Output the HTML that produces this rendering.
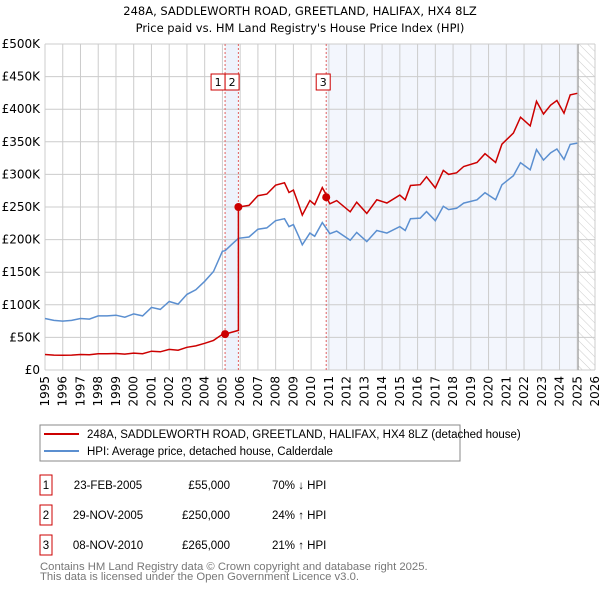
<!DOCTYPE html>
<html><head><meta charset="utf-8"><style>
body{margin:0;background:#fff;font-family:"Liberation Sans","DejaVu Sans",sans-serif;}
svg text{font-family:"DejaVu Sans","Liberation Sans",sans-serif;}
svg text.lib{font-family:"Liberation Sans","DejaVu Sans",sans-serif;}
</style></head><body>
<svg id="c" width="600" height="590" xmlns="http://www.w3.org/2000/svg">
<defs><pattern id="hatch" width="6" height="6" patternUnits="userSpaceOnUse" patternTransform="rotate(-45)"><line x1="0" y1="0" x2="0" y2="6" stroke="#ccc" stroke-width="1"/></pattern></defs>
<text x="300" y="15" text-anchor="middle" font-size="11.5" fill="#000">248A, SADDLEWORTH ROAD, GREETLAND, HALIFAX, HX4 8LZ</text>
<text x="300" y="32" text-anchor="middle" font-size="11.5" fill="#000">Price paid vs. HM Land Registry's House Price Index (HPI)</text>
<g id="plot"></g>
<rect x="40" y="425" width="420" height="36" fill="#fff" stroke="#888"/>
<line x1="44" y1="434" x2="79" y2="434" stroke="#cc0000" stroke-width="2"/>
<text class="lib" x="87" y="438" font-size="11.5">248A, SADDLEWORTH ROAD, GREETLAND, HALIFAX, HX4 8LZ (detached house)</text>
<line x1="44" y1="451" x2="79" y2="451" stroke="#5b8fd0" stroke-width="2"/>
<text class="lib" x="87" y="455" font-size="11.5">HPI: Average price, detached house, Calderdale</text>
<g id="table" font-size="11.5"></g>
<text class="lib" x="40" y="570" font-size="11.3" fill="#777">Contains HM Land Registry data © Crown copyright and database right 2025.</text>
<text class="lib" x="40" y="580" font-size="11.3" fill="#777">This data is licensed under the Open Government Licence v3.0.</text>
</svg>
<script>
const hpiYears=[1995,1995.5,1996,1996.5,1997,1997.5,1998,1998.5,1999,1999.5,2000,2000.5,2001,2001.5,2002,2002.5,2003,2003.5,2004,2004.5,2005,2005.15,2005.5,2005.9,2006.5,2007,2007.5,2008,2008.5,2008.75,2009,2009.3,2009.5,2009.93,2010.2,2010.63,2011.06,2011.44,2012.2,2012.57,2013.14,2013.7,2014.27,2015,2015.3,2015.6,2016.15,2016.5,2017,2017.45,2017.75,2018.2,2018.6,2019.35,2019.8,2020.4,2020.75,2021.4,2021.8,2022.05,2022.35,2022.7,2023.1,2023.5,2023.85,2024.25,2024.6,2025];
const hpiValues=[79,76,75,76,79,78,83,83,84,81,86,83,96,93,105,101,116,123,136,151,182,183,192,202,204,216,218,229,232,220,223,205,192,210,205,226,209,213,199,211,197,214,210,220,214,232,233,243,229,251,246,248,256,261,272,261,284,298,318,313,307,338,322,333,339,323,346,348];
const saleDates=[2005.15,2005.9,2010.85];
const salePrices=[55,250,265];
const saleLabels=["1","2","3"];
const saleDateText=["23-FEB-2005","29-NOV-2005","08-NOV-2010"];
const salePriceText=["£55,000","£250,000","£265,000"];
const saleHpiText=["70% ↓ HPI","24% ↑ HPI","21% ↑ HPI"];
const yTicks=[0,50,100,150,200,250,300,350,400,450,500];
const yTickLabels=["£0","£50K","£100K","£150K","£200K","£250K","£300K","£350K","£400K","£450K","£500K"];
const xTicks=[1995,1996,1997,1998,1999,2000,2001,2002,2003,2004,2005,2006,2007,2008,2009,2010,2011,2012,2013,2014,2015,2016,2017,2018,2019,2020,2021,2022,2023,2024,2025,2026];

const X0=45,X1=595,Y0=370,Y1=44;
const xs=t=>X0+(t-1995)/(2026-1995)*(X1-X0);
const ys=v=>Y0-v/500*(Y0-Y1);
const NS="http://www.w3.org/2000/svg";
const plot=document.getElementById('plot');
function mk(tag,attrs,parent){const e=document.createElementNS(NS,tag);for(const k in attrs)e.setAttribute(k,attrs[k]);(parent||plot).appendChild(e);return e;}
function hpiAt(t){for(let i=0;i<hpiYears.length-1;i++){if(t<=hpiYears[i+1]){const f=(t-hpiYears[i])/(hpiYears[i+1]-hpiYears[i]);return hpiValues[i]+f*(hpiValues[i+1]-hpiValues[i]);}}return hpiValues[hpiValues.length-1];}

let r=mk('rect',{x:xs(saleDates[0]),y:Y1,width:xs(saleDates[1])-xs(saleDates[0]),height:Y0-Y1,fill:'#eef3fc'});

r=mk('rect',{x:xs(saleDates[2]),y:Y1,width:xs(2025.05)-xs(saleDates[2]),height:Y0-Y1,fill:'#f3f6fd'});

r=mk('rect',{x:xs(2025.05),y:Y1,width:X1-xs(2025.05),height:Y0-Y1,fill:'url(#hatch)'});

yTicks.forEach((v,i)=>{
 const l=mk('line',{x1:X0,x2:X1,y1:ys(v),y2:ys(v),stroke:'#ccc','stroke-width':1});
 
 const t=mk('text',{x:X0-5,y:ys(v)+4,'text-anchor':'end','font-size':12});t.textContent=yTickLabels[i];
 
});
xTicks.forEach(y=>{
 const l=mk('line',{x1:xs(y),x2:xs(y),y1:Y1,y2:Y0,stroke:'#ccc','stroke-width':1});
 
 const t=mk('text',{x:0,y:0,'text-anchor':'end','font-size':12,transform:`translate(${xs(y)+4},376) rotate(-90)`});t.textContent=y;
 
});
let l=mk('line',{x1:xs(2025.05),x2:xs(2025.05),y1:Y1,y2:Y0,stroke:'#999','stroke-width':1});

saleDates.forEach((d,i)=>{
 const s=mk('line',{x1:xs(d),x2:xs(d),y1:Y1,y2:Y0,stroke:'#e06060','stroke-width':1,'stroke-dasharray':'2,2'});
 
});
const hp=hpiYears.map((t,i)=>xs(t).toFixed(1)+','+ys(hpiValues[i]).toFixed(1)).join(' ');
let p=mk('polyline',{points:hp,fill:'none',stroke:'#5b8fd0','stroke-width':1.5});

function redAt(t){
 if(t<saleDates[0])return hpiAt(t)*salePrices[0]/hpiAt(saleDates[0]);
 let k=0;for(let i=0;i<saleDates.length;i++)if(t>=saleDates[i])k=i;
 return hpiAt(t)*salePrices[k]/hpiAt(saleDates[k]);
}
let ts=[];hpiYears.forEach(t=>ts.push(t));saleDates.forEach(d=>{ts.push(d-0.001);ts.push(d);});ts.sort((a,b)=>a-b);
const rp=ts.map(t=>xs(t).toFixed(1)+','+ys(redAt(t)).toFixed(1)).join(' ');
p=mk('polyline',{points:rp,fill:'none',stroke:'#cc0000','stroke-width':1.5});

saleDates.forEach((d,i)=>{
 const c=mk('circle',{cx:xs(d),cy:ys(salePrices[i]),r:4,fill:'#cc0000'});
 
});
const boxX=[xs(saleDates[0])-14,xs(saleDates[0]),xs(saleDates[2])-10];
saleLabels.forEach((s,i)=>{
 const b=mk('rect',{x:boxX[i],y:74,width:14,height:16,fill:'#fff',stroke:'#cc0000','stroke-width':1});
 
 const t=mk('text',{x:boxX[i]+7,y:86,'text-anchor':'middle','font-size':11});t.textContent=s;
 
});
const tb=document.getElementById('table');
const rowY=[483,513,543];
saleLabels.forEach((s,i)=>{
 const y=rowY[i];
 const b=mk('rect',{x:40,y:y-8,width:12,height:20,fill:'#fff',stroke:'#cc0000','stroke-width':1},tb);
 
 let t=mk('text',{x:46,y:y+6,'text-anchor':'middle',class:'lib'},tb);t.textContent=s;
 
 t=mk('text',{x:108,y:y+6,'text-anchor':'middle',class:'lib'},tb);t.textContent=saleDateText[i];
 
 t=mk('text',{x:230,y:y+6,'text-anchor':'end',class:'lib'},tb);t.textContent=salePriceText[i];
 
 t=mk('text',{x:272,y:y+6,class:'lib'},tb);t.textContent=saleHpiText[i];
 
});
</script>
</body></html>
